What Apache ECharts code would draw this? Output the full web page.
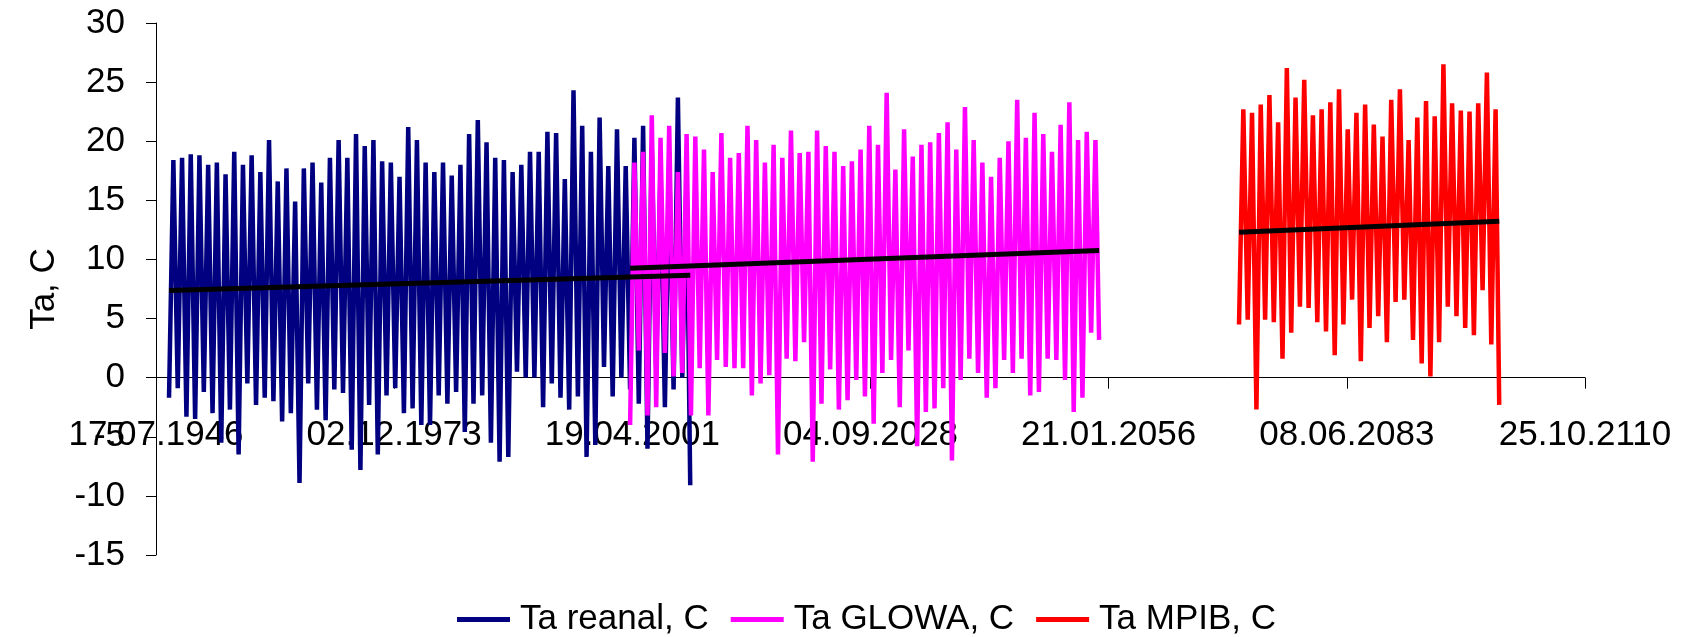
<!DOCTYPE html>
<html><head><meta charset="utf-8">
<script src="https://cdn.jsdelivr.net/npm/echarts@6.0.0/dist/echarts.min.js"></script>
<style>html,body{margin:0;padding:0;background:#fff}#c{width:1692px;height:637px}</style>
</head><body><div id="c"></div><script>
// Tick labels of the date axis (Excel day serials 17000..77000 step 10000)
const xTickLabels = ['17.07.1946','02.12.1973','19.04.2001','04.09.2028','21.01.2056','08.06.2083','25.10.2110'];
const seriesNames = ['Ta reanal, C','Ta GLOWA, C','Ta MPIB, C'];

// Reanalysis: first year 1948; July peaks (one per year) and January troughs (+ final December)
const reanalStart = 1948;
const reanalPeaks = [18.4,18.6,18.9,18.8,18.0,18.2,17.2,19.1,18.0,18.8,17.4,20.1,16.6,17.7,14.9,17.7,18.2,16.5,18.6,20.1,
  18.6,20.6,19.6,20.1,18.3,18.2,17.0,21.2,20.1,18.2,17.4,18.2,17.1,18.0,20.6,21.8,19.9,18.6,
  18.4,17.4,18.0,19.1,19.1,20.8,20.7,16.8,24.3,21.3,19.1,22.0,17.9,21.0,17.9,20.3,21.3,19.5,17.5,18.5,23.7,17.0];
const reanalTroughs = [-1.7,-0.9,-3.3,-3.5,-1.2,-3.0,-5.5,-2.7,-6.5,-0.5,-2.3,-1.7,-2.0,-3.7,-3.0,-8.9,-0.5,-2.7,-3.6,-1.0,
  -1.3,-6.1,-7.8,-2.3,-6.5,-1.5,-0.9,-3.0,-2.6,-4.0,-4.0,-1.5,-2.2,-1.2,-4.6,-2.2,-1.5,-5.5,-7.1,
  -6.7,0.5,0.0,0.0,-2.5,-0.5,-1.7,-2.7,-1.6,-6.7,-5.7,0.9,-1.6,0.0,-1.0,-2.2,-6.0,0.8,-2.5,-1.0,0.0,-9.1];

// GLOWA scenario: first year 2001
const glowaStart = 2001;
const glowaPeaks = [18.2,19.1,22.2,20.3,21.3,17.4,20.6,20.4,19.3,17.4,20.7,18.6,19.0,21.3,20.1,
  18.2,19.7,18.6,20.9,19.0,19.1,20.9,19.6,19.1,17.9,18.3,19.3,21.3,19.7,24.1,17.6,21.0,18.7,19.7,19.9,
  20.7,21.6,19.3,22.9,20.1,18.2,17.0,18.6,20.0,23.5,20.3,22.4,20.6,19.1,21.4,23.3,20.1,20.8,20.1];
const glowaTroughs = [-4.0,2.3,-3.2,-2.5,2.1,0.1,0.4,-3.2,0.8,-3.2,1.5,0.9,0.8,0.8,-1.5,
  -0.5,0.2,-6.5,1.6,1.4,3.0,-7.1,-2.2,0.7,-2.7,-1.9,-0.2,-1.6,-3.9,0.4,1.5,-2.5,2.3,-5.8,-2.9,
  -2.6,-0.9,-7.0,-0.2,1.6,0.4,-1.7,-0.9,1.5,0.4,1.6,-1.5,-1.2,1.6,1.5,-0.2,-2.9,-1.7,3.8,3.2];

// MPIB scenario: first year 2071
const mpibStart = 2071;
const mpibPeaks = [22.7,22.4,23.1,23.9,21.6,26.2,23.7,25.2,22.2,22.7,23.3,24.4,21.0,22.4,23.1,
  21.4,20.4,23.5,24.4,20.1,22.0,23.4,22.1,26.5,23.2,22.6,22.5,23.2,25.8,22.7];
const mpibTroughs = [4.5,4.9,-2.7,4.9,4.7,1.6,3.8,6.0,5.9,4.7,3.9,1.9,4.5,6.6,1.4,
  4.2,5.2,3.0,6.4,6.6,3.2,1.2,0.1,3.0,6.0,5.2,4.2,3.6,7.4,2.8,-2.3];

// Linear trend end values [start, end]
const reanalTrend = [7.37, 8.67];
const glowaTrend = [9.26, 10.75];
const mpibTrend = [12.31, 13.24];

function serial(y, m, d) { return (Date.UTC(y, m - 1, d) - Date.UTC(1899, 11, 30)) / 86400000; }
function build(start, peaks, troughs) {
  const pts = [];
  for (let i = 0; i < peaks.length; i++) {
    pts.push([serial(start + i, 1, 15), troughs[i]]);
    pts.push([serial(start + i, 7, 15), peaks[i]]);
  }
  pts.push([serial(start + peaks.length - 1, 12, 15), troughs[peaks.length]]);
  return pts;
}
function trend(start, nYears, ends) {
  return [[serial(start, 1, 15), ends[0]], [serial(start + nYears - 1, 12, 15), ends[1]]];
}

const FONT = '"Liberation Sans", Arial, Helvetica, sans-serif';
const colors = ['#000080', '#FF00FF', '#FF0000'];
const chart = echarts.init(document.getElementById('c'), null, {renderer: 'canvas'});
const lineS = (name, data, color) => ({
  name, type: 'line', data, symbol: 'none', silent: true,
  lineStyle: {color, width: 4.5}, itemStyle: {color}
});
const trendS = (data) => ({
  type: 'line', data, symbol: 'none', silent: true, z: 5,
  lineStyle: {color: '#000', width: 5}, itemStyle: {color: '#000'}
});
const X_MIN = 17000, X_MAX = 77000, X_INT = 10000, Y_MIN = -15, Y_MAX = 30;
const G_TOP = 23, G_BOTTOM = 82, G_H = 637 - G_TOP - G_BOTTOM;
// second (empty) grid whose bottom edge lies on y = 0 of the main grid, to carry the date axis there
const zeroBottom = 637 - (G_TOP + (Y_MAX / (Y_MAX - Y_MIN)) * G_H);
chart.setOption({
  animation: false,
  backgroundColor: '#fff',
  grid: [
    {left: 156, right: 107, top: G_TOP, bottom: G_BOTTOM},
    {left: 156, right: 107, top: G_TOP, bottom: zeroBottom}
  ],
  xAxis: [
    {type: 'value', gridIndex: 0, min: X_MIN, max: X_MAX, interval: X_INT,
     axisLine: {show: false}, axisTick: {show: false}, axisLabel: {show: false}, splitLine: {show: false}},
    {type: 'value', gridIndex: 1, min: X_MIN, max: X_MAX, interval: X_INT,
     axisLine: {show: true, onZero: false, lineStyle: {color: '#000', width: 1}},
     axisTick: {show: true, length: 11, lineStyle: {color: '#000'}},
     axisLabel: {fontSize: 35, color: '#000', fontFamily: FONT, margin: 40,
       formatter: v => xTickLabels[Math.round((v - X_MIN) / X_INT)]},
     splitLine: {show: false}}
  ],
  yAxis: [
    {type: 'value', gridIndex: 0, min: Y_MIN, max: Y_MAX, interval: 5,
     name: 'Ta, C', nameLocation: 'middle', nameGap: 94, nameRotate: 90,
     nameTextStyle: {fontSize: 35, color: '#000', fontFamily: FONT},
     axisLine: {show: true, onZero: false, lineStyle: {color: '#000', width: 1}},
     axisTick: {show: true, length: 10, lineStyle: {color: '#000'}},
     axisLabel: {fontSize: 35, color: '#000', fontFamily: FONT, margin: 31},
     splitLine: {show: false}},
    {type: 'value', gridIndex: 1, min: 0, max: 1, show: false}
  ],
  legend: {
    data: seriesNames, left: 457, bottom: 0, padding: 0, icon: 'rect', itemWidth: 53, itemHeight: 5, itemGap: 22,
    textStyle: {fontSize: 35, color: '#000', fontFamily: FONT, padding: [0, 0, 0, 5]}
  },
  series: [
    lineS(seriesNames[0], build(reanalStart, reanalPeaks, reanalTroughs), colors[0]),
    lineS(seriesNames[1], build(glowaStart, glowaPeaks, glowaTroughs), colors[1]),
    lineS(seriesNames[2], build(mpibStart, mpibPeaks, mpibTroughs), colors[2]),
    trendS(trend(reanalStart, reanalPeaks.length, reanalTrend)),
    trendS(trend(glowaStart, glowaPeaks.length, glowaTrend)),
    trendS(trend(mpibStart, mpibPeaks.length, mpibTrend))
  ]
});
</script></body></html>
